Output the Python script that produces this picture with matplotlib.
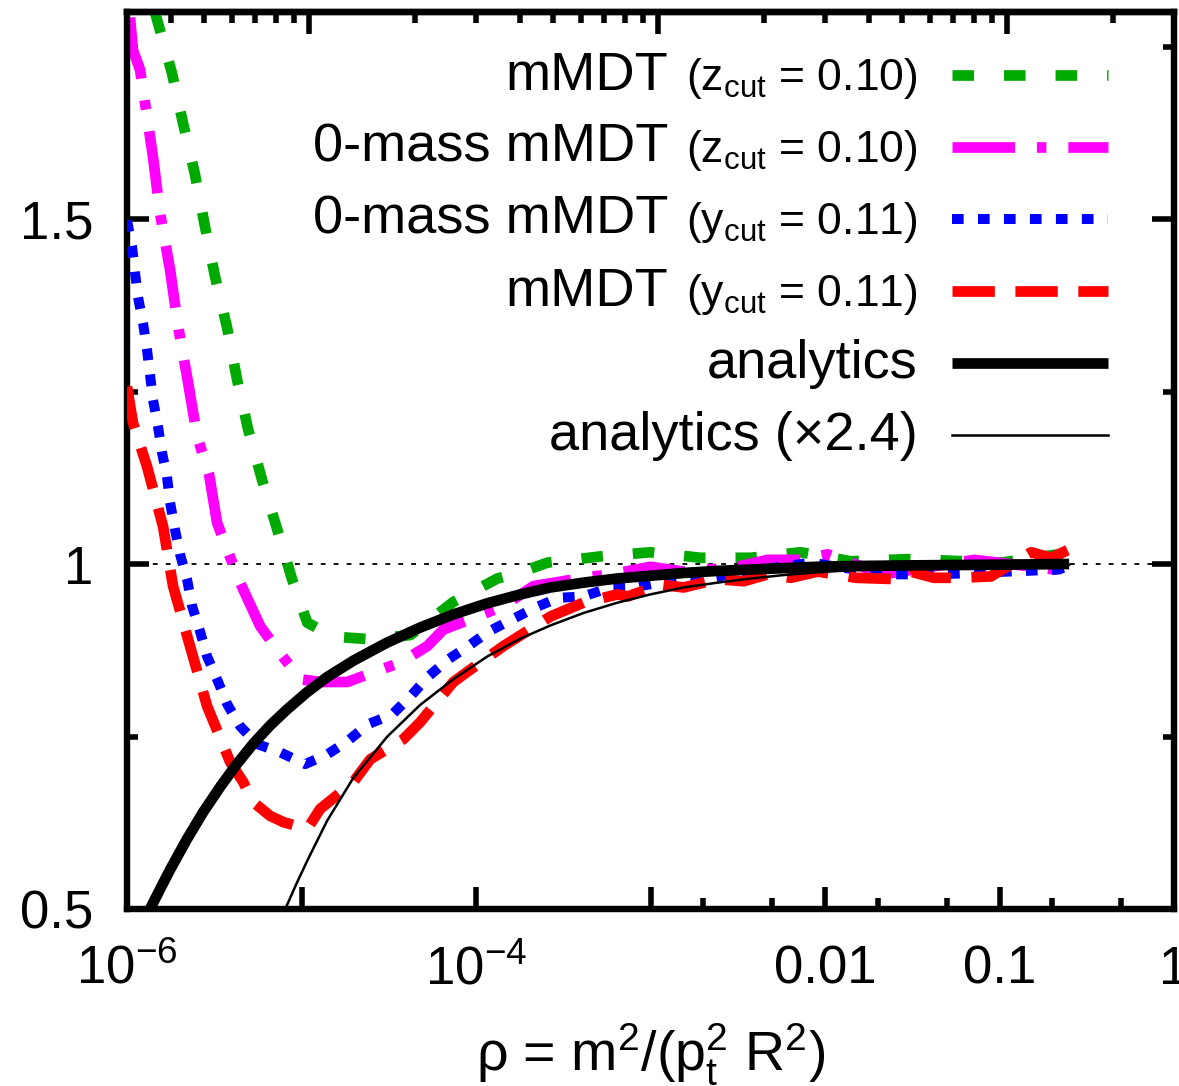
import numpy as np
import matplotlib
matplotlib.use("Agg")
import matplotlib.pyplot as plt
from matplotlib.lines import Line2D
from matplotlib.legend_handler import HandlerLine2D
from matplotlib.ticker import NullFormatter

plt.rcParams['font.family'] = ['Liberation Sans', 'DejaVu Sans']
plt.rcParams['mathtext.fontset'] = 'custom'
plt.rcParams['mathtext.rm'] = 'Liberation Sans'
plt.rcParams['mathtext.it'] = 'Liberation Sans'
plt.rcParams['mathtext.bf'] = 'Liberation Sans:bold'
plt.rcParams['lines.scale_dashes'] = False

# curves: log10(rho) and ratio
zcut_lr = [-5.84, -5.742, -5.679, -5.610, -5.553, -5.495, -5.426, -5.369, -5.306, -5.225,
           -5.139, -5.053, -4.967, -4.893, -4.778, -4.606, -4.376, -4.130, -3.877, -3.745,
           -3.590, -3.286, -3.0, -2.713, -2.426, -2.139, -1.852, -1.525, -0.991, -0.664, -0.601]
zcut_y = [1.80, 1.711, 1.639, 1.564, 1.489, 1.416, 1.342, 1.267, 1.195, 1.121,
          1.050, 0.977, 0.915, 0.905, 0.894, 0.891, 0.897, 0.945, 0.979, 0.988,
          1.002, 1.011, 1.017, 1.009, 1.009, 1.017, 1.004, 1.007, 1.002, 1.014, 1.007]

zcut0_lr = [-5.983, -5.966, -5.925, -5.851, -5.811, -5.753, -5.707, -5.650, -5.598, -5.530,
            -5.484, -5.426, -5.352, -5.237, -5.139, -5.007, -4.893, -4.738, -4.589, -4.434,
            -4.279, -4.187, -4.032, -3.843, -3.671, -3.384, -3.229, -3.0, -2.810, -2.523,
            -2.328, -2.139, -1.984, -1.663, -1.146, -0.802, -0.687, -0.601]
zcut0_y = [1.792, 1.745, 1.716, 1.590, 1.509, 1.426, 1.344, 1.263, 1.185, 1.130,
           1.060, 1.021, 0.973, 0.910, 0.876, 0.833, 0.829, 0.829, 0.843, 0.857,
           0.881, 0.905, 0.920, 0.939, 0.968, 0.980, 0.985, 0.996, 0.989, 0.995,
           1.006, 1.006, 1.014, 0.985, 1.006, 0.996, 0.992, 0.999]

ycut0_lr = [-6.0, -5.971, -5.954, -5.937, -5.908, -5.885, -5.868, -5.851, -5.822, -5.799,
            -5.771, -5.753, -5.725, -5.696, -5.656, -5.627, -5.581, -5.541, -5.484, -5.426,
            -5.352, -5.254, -5.122, -4.979, -4.853, -4.738, -4.617, -4.480, -4.376, -4.273,
            -4.158, -4.044, -3.929, -3.791, -3.659, -3.527, -3.384, -3.229, -3.097, -2.810,
            -2.655, -2.368, -2.081, -1.651, -1.353, -0.951, -0.659, -0.601]
ycut0_y = [1.498, 1.460, 1.422, 1.387, 1.349, 1.310, 1.274, 1.238, 1.199, 1.161,
           1.127, 1.089, 1.050, 1.014, 0.978, 0.939, 0.902, 0.866, 0.833, 0.797,
           0.765, 0.739, 0.727, 0.710, 0.724, 0.743, 0.768, 0.782, 0.808, 0.837,
           0.862, 0.881, 0.902, 0.920, 0.937, 0.951, 0.953, 0.966, 0.966, 0.980,
           0.980, 0.992, 1.002, 0.985, 0.985, 0.989, 0.992, 0.998]

ycut_lr = [-6.0, -5.966, -5.885, -5.793, -5.736, -5.639, -5.541, -5.409, -5.334, -5.277,
           -5.180, -5.105, -4.967, -4.893, -4.703, -4.606, -4.417, -4.319, -4.130, -4.032,
           -3.843, -3.573, -3.384, -3.189, -3.131, -2.942, -2.810, -2.615, -2.466, -2.328,
           -2.196, -2.041, -1.823, -1.582, -1.508, -1.376, -1.238, -1.049, -0.819, -0.705, -0.601]
ycut_y = [1.257, 1.205, 1.141, 1.054, 0.968, 0.881, 0.794, 0.713, 0.684, 0.655,
          0.635, 0.626, 0.616, 0.645, 0.684, 0.717, 0.746, 0.771, 0.829, 0.847,
          0.881, 0.924, 0.944, 0.956, 0.953, 0.970, 0.966, 0.978, 0.975, 0.985,
          0.980, 0.989, 0.980, 0.978, 0.989, 0.980, 0.980, 0.982, 1.017, 1.009, 1.021]

ana_lr = [-5.868, -5.810, -5.753, -5.657, -5.562, -5.466, -5.371, -5.275, -5.180, -5.084,
          -4.969, -4.854, -4.702, -4.510, -4.319, -4.128, -3.936, -3.745, -3.573, -3.384,
          -3.189, -3.0, -2.81, -2.615, -2.426, -2.236, -2.041, -1.852, -1.5, -1.0, -0.601]
ana_y = [0.500, 0.529, 0.557, 0.601, 0.641, 0.677, 0.710, 0.740, 0.766, 0.789,
         0.814, 0.836, 0.860, 0.886, 0.908, 0.927, 0.943, 0.956, 0.966, 0.973,
         0.979, 0.983, 0.987, 0.990, 0.992, 0.994, 0.996, 0.997, 0.998, 0.999, 1.0]

ana24_lr = [-5.093, -5.030, -4.967, -4.853, -4.703, -4.508, -4.319, -4.130, -3.935, -3.745,
            -3.573, -3.384, -3.189, -3.0, -2.81, -2.615, -2.426, -2.236, -2.041, -1.852,
            -1.5, -1.0, -0.601]
ana24_y = [0.500, 0.536, 0.570, 0.628, 0.690, 0.750, 0.796, 0.833, 0.866, 0.892,
           0.911, 0.929, 0.944, 0.956, 0.966, 0.973, 0.979, 0.984, 0.988, 0.991,
           0.995, 0.998, 0.999]

ref_level = 1.0
prefixes = ['mMDT', '0-mass mMDT', '0-mass mMDT', 'mMDT']
labels = [r'(z$_{\mathrm{cut}}$ = 0.10)', r'(z$_{\mathrm{cut}}$ = 0.10)',
          r'(y$_{\mathrm{cut}}$ = 0.11)', r'(y$_{\mathrm{cut}}$ = 0.11)',
          'analytics', 'analytics (\u00d72.4)']
xtick_vals = [1e-6, 1e-5, 1e-4, 1e-3, 1e-2, 1e-1, 1]
xtick_labels = ['$10^{-6}$', '', '$10^{-4}$', '', '0.01', '0.1', '1']
xminor_vals = [2e-3, 5e-3, 2e-2, 5e-2, 0.2, 0.5]

fig = plt.figure(figsize=(11.79, 10.86), dpi=100)
ax = fig.add_axes([127 / 1179, 177 / 1086, 1047 / 1179, 897 / 1086])

def rho(lr):
    return 10.0 ** np.array(lr)

ax.axhline(ref_level, color='black', lw=1.3, dashes=(3.5, 5.8), zorder=0.5)
h1, = ax.plot(rho(zcut_lr), zcut_y, color='#00aa00', lw=7.7, dashes=(15.5, 21.6), zorder=1)
h2, = ax.plot(rho(zcut0_lr), zcut0_y, color='#ff00ff', lw=7.7, dashes=(45, 15.8, 6.8, 15.8), zorder=2)
h3, = ax.plot(rho(ycut0_lr), ycut0_y, color='#0000ff', lw=7.2, dashes=(8.4, 10.3), zorder=3)
h4, = ax.plot(rho(ycut_lr), ycut_y, color='#ff0000', lw=7.7, dashes=(30.5, 14.8), zorder=4)
h5, = ax.plot(rho(ana_lr), ana_y, color='black', lw=7.7, solid_capstyle='butt', zorder=5)
h6, = ax.plot(rho(ana24_lr), ana24_y, color='black', lw=1.8, zorder=6)

ax.set_xscale('log')
ax.set_xlim(1e-6, 1)
ax.set_ylim(0.5, 1.8)

for s in ax.spines.values():
    s.set_linewidth(4.6)

ax.set_xticks(xtick_vals)
ax.set_xticklabels(xtick_labels)
ax.set_xticks(xminor_vals, minor=True)
ax.xaxis.set_minor_formatter(NullFormatter())
ax.set_yticks([0.5, 1.0, 1.5])
ax.set_yticklabels(['0.5', '1', '1.5'])
ax.set_yticks([0.75, 1.25, 1.75], minor=True)
ax.tick_params(which='both', direction='in', width=4, top=False, right=True)
ax.tick_params(which='major', length=16)
ax.tick_params(which='minor', length=8)
ax.tick_params(axis='y', labelsize=38, pad=24)
ax.tick_params(axis='x', labelsize=38, pad=54)
plt.setp(ax.get_xticklabels(), va='baseline')

# top axis: sqrt scale (m for pt R = 3 TeV), ticks only
sec = ax.secondary_xaxis('top', functions=(lambda r: 3000 * np.sqrt(np.clip(r, 1e-300, None)),
                                            lambda m: (np.asarray(m) / 3000.0) ** 2))
sec.tick_params(which='both', direction='in', width=4)
sec.tick_params(which='major', length=16)
sec.tick_params(which='minor', length=8)
sec.xaxis.set_major_formatter(NullFormatter())
sec.xaxis.set_minor_formatter(NullFormatter())
sec.spines['top'].set_linewidth(4.6)

xl = ax.set_xlabel(r'ρ = m$^2$/(p$_t^2$ R$^2$)', fontsize=40)
ax.xaxis.set_label_coords(0.5, -0.1795)
xl.set_va('baseline')

def lower(h, o):
    h.update_from(o)
    h.set_ydata(np.asarray(h.get_ydata()) - 8.1)

leg = ax.legend([h1, h2, h3, h4, h5, h6], labels, loc='upper right',
                bbox_to_anchor=(0.937, 0.9717), frameon=False, markerfirst=False,
                fontsize=39, handlelength=2.88, handleheight=1.6, handletextpad=0.63,
                labelspacing=0.044, borderpad=0, borderaxespad=0,
                handler_map={Line2D: HandlerLine2D(marker_pad=0, update_func=lower)})
leg.set_zorder(10)
for t in leg.get_texts()[:4]:
    t.set_fontsize(32)

fig.canvas.draw()
for t, pre in zip(leg.get_texts(), prefixes):
    x0, y0 = t.get_transform().transform(t.get_position())
    fx, fy = fig.transFigure.inverted().transform((x0 - 18, y0))
    fig.text(fx, fy, pre, ha='right', va='baseline', fontsize=39)

fig.savefig('out.png', dpi=100)
